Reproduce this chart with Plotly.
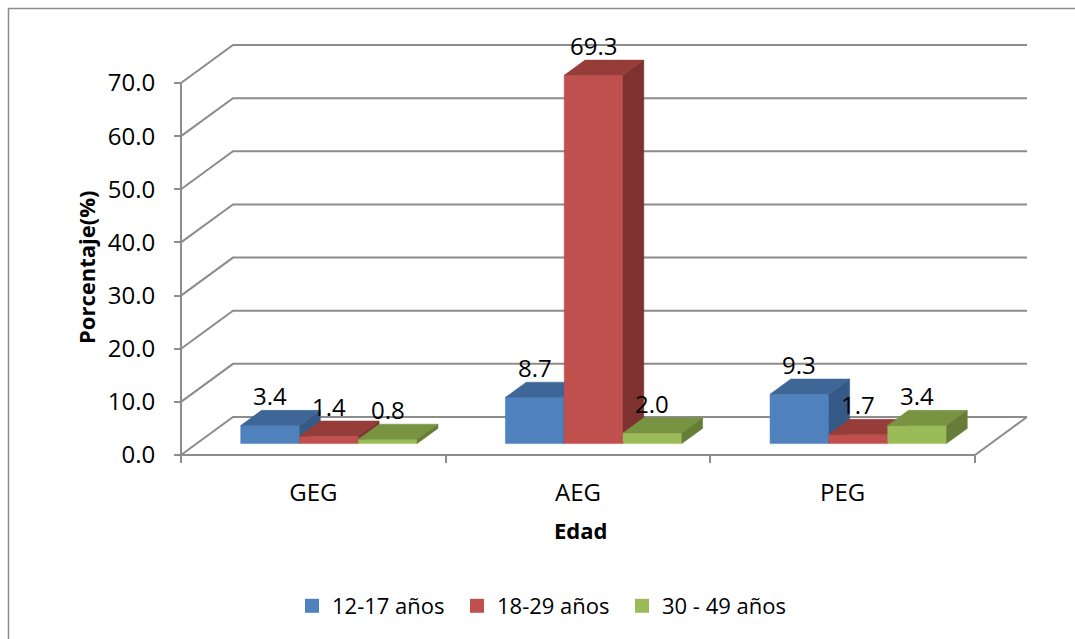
import plotly.graph_objects as go

# ---------------- data ----------------
categories = ["GEG", "AEG", "PEG"]
series_names = ["12-17 años", "18-29 años", "30 - 49 años"]
val_12_17 = [3.4, 8.7, 9.3]
val_18_29 = [1.4, 69.3, 1.7]
val_30_49 = [0.8, 2.0, 3.4]
y_ticks = [0, 10, 20, 30, 40, 50, 60, 70]

series_values = [val_12_17, val_18_29, val_30_49]
front_colors = ["#4F81BD", "#C0504D", "#9BBB59"]
top_colors = ["#3E6696", "#963D3A", "#789341"]
side_colors = ["#365A87", "#7E322F", "#657D37"]

# ---------------- geometry (oblique 3D look) ----------------
W_FIG, H_FIG = 1075, 639
ML, MR, MT, MB = 168, 34, 40, 173
PW = W_FIG - ML - MR
PH = H_FIG - MT - MB
X0_PX, X3_PX = 181, 975          # front floor edge in px
Y0_PX, Y70_PX = 455, 83          # value 0 and 70 at front plane
PX_X = (X3_PX - X0_PX) / 3.0
PX_Y = (Y0_PX - Y70_PX) / 70.0
DX = 52 / PX_X                   # full depth offset (x units)
DY = 38 / PX_Y                   # full depth offset (value units)
BW = 1 / 4.5                     # bar width (gap width 150%)
F0, F1 = 0.3, 0.7                # bar depth span

x_range = [(ML - X0_PX) / PX_X, (ML + PW - X0_PX) / PX_X]
y_range = [(Y0_PX - (MT + PH)) / PX_Y, (Y0_PX - MT) / PX_Y]

GRID = "#8C8C8C"
FONT = "Open Sans"

fig = go.Figure()

# gridlines / walls
gx, gy = [], []
for v in y_ticks:
    gx += [0, DX, 3 + DX, None]
    gy += [v, v + DY, v + DY, None]
# floor front edge + right diagonal
gx += [0, 3, 3 + DX, None]
gy += [0, 0, DY, None]
# vertical axis line
gx += [0, 0, None]
gy += [0, y_ticks[-1], None]
fig.add_trace(go.Scatter(x=gx, y=gy, mode="lines", line=dict(color=GRID, width=2),
                         hoverinfo="skip", showlegend=False))

# bars
for s, vals in enumerate(series_values):
    fx, fy, tx, ty, sx, sy = [], [], [], [], [], []
    for i, v in enumerate(vals):
        xl = i + 0.75 * BW + s * BW
        xr = xl + BW
        # front face
        fx += [xl + F0 * DX, xr + F0 * DX, xr + F0 * DX, xl + F0 * DX, xl + F0 * DX, None]
        fy += [F0 * DY, F0 * DY, v + F0 * DY, v + F0 * DY, F0 * DY, None]
        # top face
        tx += [xl + F0 * DX, xr + F0 * DX, xr + F1 * DX, xl + F1 * DX, xl + F0 * DX, None]
        ty += [v + F0 * DY, v + F0 * DY, v + F1 * DY, v + F1 * DY, v + F0 * DY, None]
        # side face
        sx += [xr + F0 * DX, xr + F1 * DX, xr + F1 * DX, xr + F0 * DX, xr + F0 * DX, None]
        sy += [F0 * DY, F1 * DY, v + F1 * DY, v + F0 * DY, F0 * DY, None]
    for xs, ys, col in ((fx, fy, front_colors[s]), (tx, ty, top_colors[s]), (sx, sy, side_colors[s])):
        fig.add_trace(go.Scatter(x=xs, y=ys, mode="lines", fill="toself", fillcolor=col,
                                 line=dict(color=col, width=0.5), hoverinfo="skip",
                                 showlegend=False))
    # data labels
    for i, v in enumerate(vals):
        xc = i + 0.75 * BW + s * BW + BW / 2 + F0 * DX
        fig.add_annotation(x=xc, y=v + F1 * DY, text=f"{v:.1f}", showarrow=False,
                           xanchor="center", yanchor="bottom", yshift=-4,
                           font=dict(family=FONT, size=24, color="#000000"))

# legend entries
for s, name in enumerate(series_names):
    fig.add_trace(go.Scatter(x=[None], y=[None], mode="markers", name=name,
                             marker=dict(symbol="square", size=14, color=front_colors[s])))

fig.update_layout(
    xaxis=dict(range=x_range, domain=[0, 1], tickvals=[0, 1, 2, 3], ticks="outside",
               ticklen=7, tickwidth=2, tickcolor=GRID, showticklabels=False,
               showgrid=False, zeroline=False, showline=False,
               anchor="free", position=(MT + PH - Y0_PX) / PH),
    xaxis2=dict(range=x_range, overlaying="x", tickvals=[0.5, 1.5, 2.5], ticktext=categories,
                ticks="outside", ticklen=16, tickcolor="rgba(0,0,0,0)",
                showgrid=False, zeroline=False, showline=False,
                anchor="free", position=(MT + PH - Y0_PX) / PH, side="bottom",
                tickfont=dict(family=FONT, size=24, color="#000000")),
    yaxis=dict(range=y_range, tickvals=y_ticks, tickformat=".1f", ticks="outside",
               ticklen=7, tickwidth=2, tickcolor=GRID, showgrid=False, zeroline=False,
               showline=False, anchor="free", position=(X0_PX - ML) / PW,
               ticklabelstandoff=14,
               tickfont=dict(family=FONT, size=24, color="#000000")),
    width=W_FIG, height=H_FIG,
    margin=dict(l=ML, r=MR, t=MT, b=MB),
    plot_bgcolor="white", paper_bgcolor="white",
    showlegend=True,
    legend=dict(orientation="h", x=(292 - ML) / PW, xanchor="left",
                y=(MT + PH - 606) / PH, yanchor="middle",
                font=dict(family=FONT, size=22, color="#000000"),
                entrywidth=120, itemclick=False, itemdoubleclick=False,
                bgcolor="rgba(0,0,0,0)"),
    hovermode=False,
)
fig.add_trace(go.Scatter(x=[None], y=[None], xaxis="x2", showlegend=False, hoverinfo="skip"))

# axis titles
fig.add_annotation(xref="paper", yref="paper", x=(86 - ML) / PW, y=(MT + PH - 268) / PH,
                   text="<b>Porcentaje(%)</b>", textangle=-90, showarrow=False,
                   xanchor="center", yanchor="middle",
                   font=dict(family=FONT, size=22, color="#000000"))
fig.add_annotation(xref="paper", yref="paper", x=(580 - ML) / PW, y=(MT + PH - 530) / PH,
                   text="<b>Edad</b>", showarrow=False, xanchor="center", yanchor="middle",
                   font=dict(family=FONT, size=22, color="#000000"))

# chart border
fig.add_shape(type="rect", xref="paper", yref="paper",
              x0=(8.5 - ML) / PW, x1=(1090 - ML) / PW,
              y0=(MT + PH - 660) / PH, y1=(MT + PH - 8.5) / PH,
              line=dict(color="#8C8C8C", width=1.5), fillcolor="rgba(0,0,0,0)", layer="below")

fig.write_html("out.html")
